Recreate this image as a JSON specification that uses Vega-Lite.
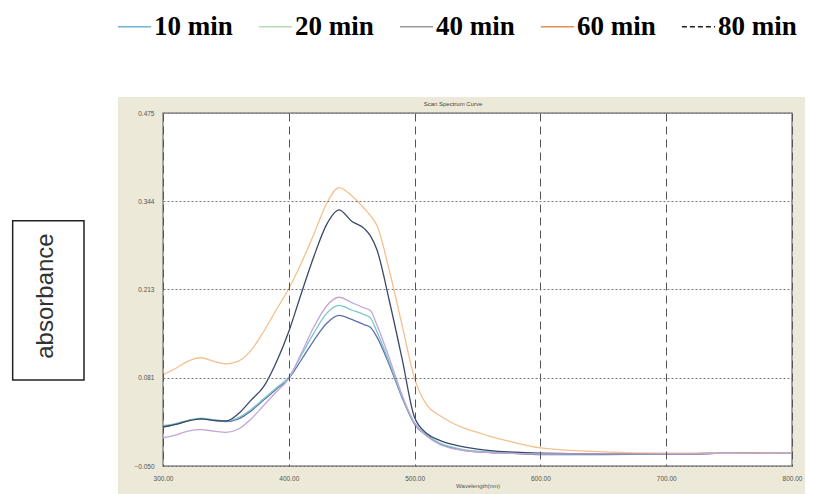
{
  "$schema": "https://vega.github.io/schema/vega-lite/v6.json",
  "width": 629,
  "height": 353,
  "autosize": {"type": "none"},
  "padding": {"left": 163, "top": 113, "right": 23, "bottom": 28},
  "background": "white",
  "config": {"view": {"stroke": null}, "font": "Liberation Sans"},
  "datasets": {
    "spectra": [
      {"time":"10 min","wavelength":300,"absorbance":0.008},{"time":"10 min","wavelength":310,"absorbance":0.012},{"time":"10 min","wavelength":320,"absorbance":0.017},{"time":"10 min","wavelength":330,"absorbance":0.020},{"time":"10 min","wavelength":340,"absorbance":0.018},{"time":"10 min","wavelength":350,"absorbance":0.016},{"time":"10 min","wavelength":360,"absorbance":0.020},{"time":"10 min","wavelength":370,"absorbance":0.032},{"time":"10 min","wavelength":380,"absorbance":0.048},{"time":"10 min","wavelength":390,"absorbance":0.064},{"time":"10 min","wavelength":400,"absorbance":0.080},{"time":"10 min","wavelength":410,"absorbance":0.108},{"time":"10 min","wavelength":420,"absorbance":0.137},{"time":"10 min","wavelength":430,"absorbance":0.162},{"time":"10 min","wavelength":440,"absorbance":0.174},{"time":"10 min","wavelength":450,"absorbance":0.168},{"time":"10 min","wavelength":460,"absorbance":0.160},{"time":"10 min","wavelength":465,"absorbance":0.156},{"time":"10 min","wavelength":470,"absorbance":0.142},{"time":"10 min","wavelength":480,"absorbance":0.100},{"time":"10 min","wavelength":490,"absorbance":0.052},{"time":"10 min","wavelength":500,"absorbance":0.012},{"time":"10 min","wavelength":510,"absorbance":-0.005},{"time":"10 min","wavelength":520,"absorbance":-0.017},{"time":"10 min","wavelength":530,"absorbance":-0.023},{"time":"10 min","wavelength":540,"absorbance":-0.027},{"time":"10 min","wavelength":550,"absorbance":-0.029},{"time":"10 min","wavelength":560,"absorbance":-0.030},{"time":"10 min","wavelength":575,"absorbance":-0.031},{"time":"10 min","wavelength":600,"absorbance":-0.033},{"time":"10 min","wavelength":650,"absorbance":-0.033},{"time":"10 min","wavelength":700,"absorbance":-0.032},{"time":"10 min","wavelength":750,"absorbance":-0.031},{"time":"10 min","wavelength":800,"absorbance":-0.030},
      {"time":"20 min","wavelength":300,"absorbance":0.010},{"time":"20 min","wavelength":310,"absorbance":0.013},{"time":"20 min","wavelength":320,"absorbance":0.018},{"time":"20 min","wavelength":330,"absorbance":0.021},{"time":"20 min","wavelength":340,"absorbance":0.019},{"time":"20 min","wavelength":350,"absorbance":0.017},{"time":"20 min","wavelength":360,"absorbance":0.022},{"time":"20 min","wavelength":370,"absorbance":0.034},{"time":"20 min","wavelength":380,"absorbance":0.050},{"time":"20 min","wavelength":390,"absorbance":0.066},{"time":"20 min","wavelength":400,"absorbance":0.082},{"time":"20 min","wavelength":410,"absorbance":0.115},{"time":"20 min","wavelength":420,"absorbance":0.148},{"time":"20 min","wavelength":430,"absorbance":0.177},{"time":"20 min","wavelength":440,"absorbance":0.189},{"time":"20 min","wavelength":450,"absorbance":0.182},{"time":"20 min","wavelength":460,"absorbance":0.175},{"time":"20 min","wavelength":465,"absorbance":0.170},{"time":"20 min","wavelength":470,"absorbance":0.150},{"time":"20 min","wavelength":480,"absorbance":0.104},{"time":"20 min","wavelength":490,"absorbance":0.054},{"time":"20 min","wavelength":500,"absorbance":0.014},{"time":"20 min","wavelength":510,"absorbance":-0.004},{"time":"20 min","wavelength":520,"absorbance":-0.016},{"time":"20 min","wavelength":530,"absorbance":-0.022},{"time":"20 min","wavelength":540,"absorbance":-0.026},{"time":"20 min","wavelength":550,"absorbance":-0.028},{"time":"20 min","wavelength":560,"absorbance":-0.029},{"time":"20 min","wavelength":575,"absorbance":-0.030},{"time":"20 min","wavelength":600,"absorbance":-0.032},{"time":"20 min","wavelength":650,"absorbance":-0.032},{"time":"20 min","wavelength":700,"absorbance":-0.032},{"time":"20 min","wavelength":750,"absorbance":-0.031},{"time":"20 min","wavelength":800,"absorbance":-0.030},
      {"time":"40 min","wavelength":300,"absorbance":0.008},{"time":"40 min","wavelength":310,"absorbance":0.012},{"time":"40 min","wavelength":320,"absorbance":0.017},{"time":"40 min","wavelength":330,"absorbance":0.020},{"time":"40 min","wavelength":340,"absorbance":0.018},{"time":"40 min","wavelength":350,"absorbance":0.017},{"time":"40 min","wavelength":360,"absorbance":0.028},{"time":"40 min","wavelength":370,"absorbance":0.048},{"time":"40 min","wavelength":380,"absorbance":0.068},{"time":"40 min","wavelength":390,"absorbance":0.104},{"time":"40 min","wavelength":400,"absorbance":0.150},{"time":"40 min","wavelength":410,"absorbance":0.207},{"time":"40 min","wavelength":420,"absorbance":0.262},{"time":"40 min","wavelength":430,"absorbance":0.309},{"time":"40 min","wavelength":440,"absorbance":0.331},{"time":"40 min","wavelength":450,"absorbance":0.314},{"time":"40 min","wavelength":460,"absorbance":0.303},{"time":"40 min","wavelength":465,"absorbance":0.292},{"time":"40 min","wavelength":470,"absorbance":0.272},{"time":"40 min","wavelength":480,"absorbance":0.195},{"time":"40 min","wavelength":490,"absorbance":0.110},{"time":"40 min","wavelength":500,"absorbance":0.022},{"time":"40 min","wavelength":510,"absorbance":-0.002},{"time":"40 min","wavelength":520,"absorbance":-0.012},{"time":"40 min","wavelength":530,"absorbance":-0.018},{"time":"40 min","wavelength":540,"absorbance":-0.022},{"time":"40 min","wavelength":550,"absorbance":-0.025},{"time":"40 min","wavelength":560,"absorbance":-0.027},{"time":"40 min","wavelength":575,"absorbance":-0.029},{"time":"40 min","wavelength":600,"absorbance":-0.031},{"time":"40 min","wavelength":650,"absorbance":-0.032},{"time":"40 min","wavelength":700,"absorbance":-0.032},{"time":"40 min","wavelength":750,"absorbance":-0.031},{"time":"40 min","wavelength":800,"absorbance":-0.030},
      {"time":"60 min","wavelength":300,"absorbance":0.086},{"time":"60 min","wavelength":310,"absorbance":0.095},{"time":"60 min","wavelength":320,"absorbance":0.106},{"time":"60 min","wavelength":330,"absorbance":0.111},{"time":"60 min","wavelength":340,"absorbance":0.106},{"time":"60 min","wavelength":350,"absorbance":0.102},{"time":"60 min","wavelength":360,"absorbance":0.106},{"time":"60 min","wavelength":370,"absorbance":0.122},{"time":"60 min","wavelength":380,"absorbance":0.150},{"time":"60 min","wavelength":390,"absorbance":0.182},{"time":"60 min","wavelength":400,"absorbance":0.214},{"time":"60 min","wavelength":410,"absorbance":0.252},{"time":"60 min","wavelength":420,"absorbance":0.295},{"time":"60 min","wavelength":430,"absorbance":0.340},{"time":"60 min","wavelength":440,"absorbance":0.364},{"time":"60 min","wavelength":450,"absorbance":0.352},{"time":"60 min","wavelength":460,"absorbance":0.333},{"time":"60 min","wavelength":465,"absorbance":0.322},{"time":"60 min","wavelength":470,"absorbance":0.308},{"time":"60 min","wavelength":480,"absorbance":0.240},{"time":"60 min","wavelength":490,"absorbance":0.160},{"time":"60 min","wavelength":500,"absorbance":0.080},{"time":"60 min","wavelength":510,"absorbance":0.040},{"time":"60 min","wavelength":520,"absorbance":0.025},{"time":"60 min","wavelength":530,"absorbance":0.014},{"time":"60 min","wavelength":540,"absorbance":0.006},{"time":"60 min","wavelength":550,"absorbance":0.000},{"time":"60 min","wavelength":560,"absorbance":-0.006},{"time":"60 min","wavelength":575,"absorbance":-0.013},{"time":"60 min","wavelength":600,"absorbance":-0.023},{"time":"60 min","wavelength":650,"absorbance":-0.029},{"time":"60 min","wavelength":700,"absorbance":-0.031},{"time":"60 min","wavelength":750,"absorbance":-0.031},{"time":"60 min","wavelength":800,"absorbance":-0.030},
      {"time":"80 min","wavelength":300,"absorbance":-0.008},{"time":"80 min","wavelength":310,"absorbance":-0.004},{"time":"80 min","wavelength":320,"absorbance":0.002},{"time":"80 min","wavelength":330,"absorbance":0.004},{"time":"80 min","wavelength":340,"absorbance":0.002},{"time":"80 min","wavelength":350,"absorbance":0.000},{"time":"80 min","wavelength":360,"absorbance":0.005},{"time":"80 min","wavelength":370,"absorbance":0.020},{"time":"80 min","wavelength":380,"absorbance":0.040},{"time":"80 min","wavelength":390,"absorbance":0.060},{"time":"80 min","wavelength":400,"absorbance":0.080},{"time":"80 min","wavelength":410,"absorbance":0.118},{"time":"80 min","wavelength":420,"absorbance":0.157},{"time":"80 min","wavelength":430,"absorbance":0.188},{"time":"80 min","wavelength":440,"absorbance":0.201},{"time":"80 min","wavelength":450,"absorbance":0.193},{"time":"80 min","wavelength":460,"absorbance":0.185},{"time":"80 min","wavelength":465,"absorbance":0.181},{"time":"80 min","wavelength":470,"absorbance":0.160},{"time":"80 min","wavelength":480,"absorbance":0.110},{"time":"80 min","wavelength":490,"absorbance":0.056},{"time":"80 min","wavelength":500,"absorbance":0.013},{"time":"80 min","wavelength":510,"absorbance":-0.006},{"time":"80 min","wavelength":520,"absorbance":-0.018},{"time":"80 min","wavelength":530,"absorbance":-0.024},{"time":"80 min","wavelength":540,"absorbance":-0.027},{"time":"80 min","wavelength":550,"absorbance":-0.029},{"time":"80 min","wavelength":560,"absorbance":-0.030},{"time":"80 min","wavelength":575,"absorbance":-0.031},{"time":"80 min","wavelength":600,"absorbance":-0.032},{"time":"80 min","wavelength":650,"absorbance":-0.032},{"time":"80 min","wavelength":700,"absorbance":-0.032},{"time":"80 min","wavelength":750,"absorbance":-0.031},{"time":"80 min","wavelength":800,"absorbance":-0.030}
    ]
  },
  "layer": [
    {
      "data": {"values": [{}]},
      "mark": {"type": "rect", "fill": "#ece9d8"},
      "encoding": {
        "x": {"datum": 264.2, "type": "quantitative", "scale": {"domain": [300, 800], "nice": false, "zero": false}},
        "x2": {"datum": 810.3},
        "y": {"datum": 0.4988, "type": "quantitative", "scale": {"domain": [-0.05, 0.475], "nice": false, "zero": false}},
        "y2": {"datum": -0.0916}
      }
    },
    {
      "data": {"values": [{}]},
      "mark": {"type": "text", "text": "Scan Spectrum Curve", "font": "Liberation Sans", "fontSize": 6, "align": "center", "baseline": "middle", "color": "#444"},
      "encoding": {
        "x": {"datum": 530.5, "type": "quantitative", "scale": {"domain": [300, 800], "nice": false, "zero": false}},
        "y": {"datum": 0.4884, "type": "quantitative", "scale": {"domain": [-0.05, 0.475], "nice": false, "zero": false}}
      }
    },
    {
      "data": {"values": [{}]},
      "mark": {"type": "rect", "fill": "white", "stroke": "#222", "strokeWidth": 1.5},
      "encoding": {
        "x": {"datum": 180.5, "type": "quantitative", "scale": {"domain": [300, 800], "nice": false, "zero": false}},
        "x2": {"datum": 237.2},
        "y": {"datum": 0.3148, "type": "quantitative", "scale": {"domain": [-0.05, 0.475], "nice": false, "zero": false}},
        "y2": {"datum": 0.0779}
      }
    },
    {
      "data": {"values": [{}]},
      "mark": {"type": "text", "text": "absorbance", "font": "Liberation Sans", "fontSize": 24, "angle": 270, "align": "center", "baseline": "middle", "color": "#333"},
      "encoding": {
        "x": {"datum": 207.0, "type": "quantitative", "scale": {"domain": [300, 800], "nice": false, "zero": false}},
        "y": {"datum": 0.2028, "type": "quantitative", "scale": {"domain": [-0.05, 0.475], "nice": false, "zero": false}}
      }
    },
    {
      "data": {"name": "spectra"},
      "transform": [{"filter": {"field": "wavelength", "equal": 440}}],
      "mark": {"type": "line", "strokeWidth": 1.5},
      "encoding": {
        "x": {"field": "wavelength", "type": "quantitative", "scale": {"domain": [300, 800], "nice": false, "zero": false}},
        "y": {"field": "absorbance", "type": "quantitative", "scale": {"domain": [-0.05, 0.475], "nice": false, "zero": false}},
        "color": {
          "field": "time", "type": "nominal",
          "scale": {"domain": ["10 min", "20 min", "40 min", "60 min", "80 min"], "range": ["#6fb6d6", "#b8dcb0", "#999999", "#e09050", "#222222"]},
          "legend": {
            "orient": "none", "legendX": -46, "legendY": -104, "direction": "horizontal", "columns": 5, "title": null, "padding": 0,
            "symbolType": "stroke", "symbolSize": 1100, "symbolStrokeWidth": 1.5, "symbolOpacity": 1,
            "labelFont": "Liberation Serif", "labelFontWeight": "bold", "labelFontSize": 27, "labelColor": "#000", "labelOffset": 2, "columnPadding": 22, "labelLimit": 300,
            "encode": {"symbols": {"update": {"strokeDash": [{"test": "datum.value === '80 min'", "value": [5, 3]}, {"value": [1, 0]}]}}}
          }
        }
      }
    },
    {
      "data": {"values": [{}]},
      "mark": {"type": "rect", "fill": "white", "stroke": "#8a8a8a", "strokeWidth": 1.5},
      "encoding": {
        "x": {"datum": 300, "type": "quantitative", "scale": {"domain": [300, 800], "nice": false, "zero": false}},
        "x2": {"datum": 800},
        "y": {"datum": 0.475, "type": "quantitative", "scale": {"domain": [-0.05, 0.475], "nice": false, "zero": false}},
        "y2": {"datum": -0.05}
      }
    },
    {
      "data": {"name": "spectra"},
      "mark": {"type": "line", "strokeWidth": 1.3, "interpolate": "monotone"},
      "encoding": {
        "x": {
          "field": "wavelength", "type": "quantitative",
          "scale": {"domain": [300, 800], "nice": false, "zero": false},
          "axis": {"title": "Wavelength(nm)", "values": [300, 400, 500, 600, 700, 800], "format": ".2f", "grid": true, "gridDash": [8, 5], "gridColor": "#555", "gridWidth": 1, "gridOpacity": 1, "ticks": false, "domain": false, "labelFontSize": 6.5, "labelColor": "#555", "labelPadding": 9, "labelFlush": false, "labelOverlap": false, "titleFontSize": 6, "titleFontWeight": "normal", "titleColor": "#555", "titlePadding": 1, "zindex": 1}
        },
        "y": {
          "field": "absorbance", "type": "quantitative",
          "scale": {"domain": [-0.05, 0.475], "nice": false, "zero": false},
          "axis": {"title": null, "values": [-0.05, 0.081, 0.213, 0.344, 0.475], "format": ".3f", "grid": true, "gridDash": [2, 2], "gridColor": "#777", "gridWidth": 1, "gridOpacity": 1, "ticks": false, "domain": false, "labelFontSize": 6.5, "labelColor": "#555", "labelPadding": 9, "labelFlush": false, "labelOverlap": false, "zindex": 1}
        },
        "color": {
          "field": "time", "type": "nominal",
          "scale": {"domain": ["10 min", "20 min", "40 min", "60 min", "80 min"], "range": ["#5b70b0", "#7cc6c8", "#3c4868", "#f4c08c", "#c4a6d6"]},
          "legend": null
        }
      }
    }
  ],
  "resolve": {"scale": {"color": "independent"}, "legend": {"color": "independent"}}
}
